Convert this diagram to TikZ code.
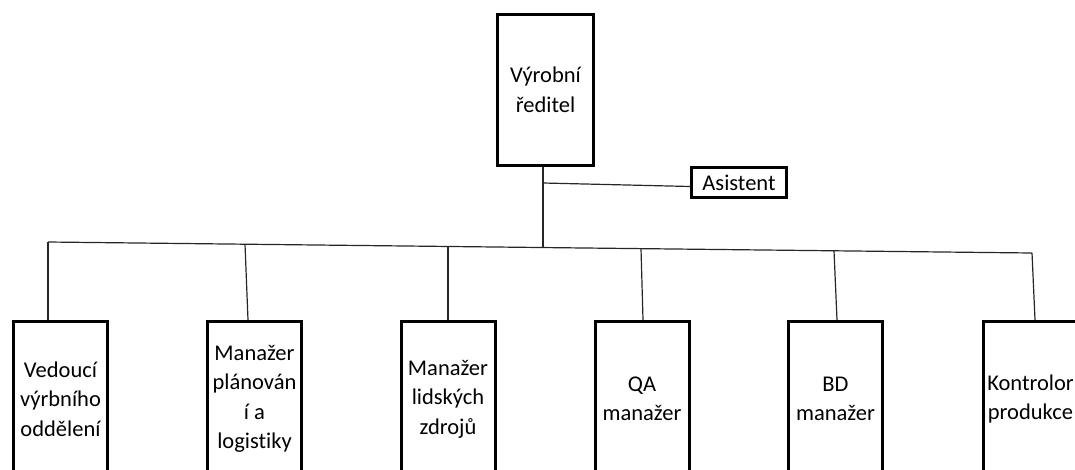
\documentclass[tikz,border=0pt]{standalone}
\usepackage{fontspec}
\setmainfont{Carlito}[Ligatures=NoCommon]
\begin{document}
\begin{tikzpicture}[x=1pt,y=-1pt,
  box/.style={draw=black, line width=3pt, inner sep=0pt, align=center,
    font=\fontsize{22.5}{29.5}\selectfont},
  childbox/.style={box, minimum width=94pt, minimum height=155pt},
  link/.style={draw=black!85, line width=1.2pt}]
\useasboundingbox (0,0) rectangle (1075,469);
\clip (0,0) rectangle (1075,469);

% director and assistant
\node[box, minimum width=96pt, minimum height=151pt] (dir) at (545.5,90) {Výrobní\\ředitel};
\node[box, line width=2.5pt, minimum width=95pt, minimum height=30pt] (asist) at (739,182.5) {Asistent};

% department heads
\node[childbox] (c1) at (60.5,399)  {Vedoucí\\výrbního\\oddělení};
\node[childbox] (c2) at (254.5,399) {Manažer\\plánován\\í a\\logistiky};
\node[childbox] (c3) at (448,399)   {Manažer\\lidských\\zdrojů};
\node[childbox] (c4) at (642,399)   {QA\\manažer};
\node[childbox] (c5) at (835.5,399) {BD\\manažer};
\node[childbox] (c6) at (1030.5,399) {Kontrolor\\produkce};

% junctions on the trunk and the bus
\coordinate (A) at (543,183);
\coordinate (J) at (543,247.5);
\coordinate (b1) at (48,242);
\coordinate (b2) at (245,244.2);
\coordinate (b3) at (448,246.5);
\coordinate (b4) at (641,248.6);
\coordinate (b5) at (834,250.8);
\coordinate (b6) at (1032,253);

% connectors
\draw[link] (dir.south -| J) -- (J);
\draw[link] (A) -- ([yshift=-4pt]asist.west);
\draw[link] (b1) -- (b6);
\draw[link] (b1) -- ([xshift=-12.5pt]c1.north);
\draw[link] (b2) -- ([xshift=-6.5pt]c2.north);
\draw[link] (b3) -- (c3.north);
\draw[link] (b4) -- ([xshift=1pt]c4.north);
\draw[link] (b5) -- ([xshift=1.5pt]c5.north);
\draw[link] (b6) -- ([xshift=4.5pt]c6.north);
\end{tikzpicture}
\end{document}
